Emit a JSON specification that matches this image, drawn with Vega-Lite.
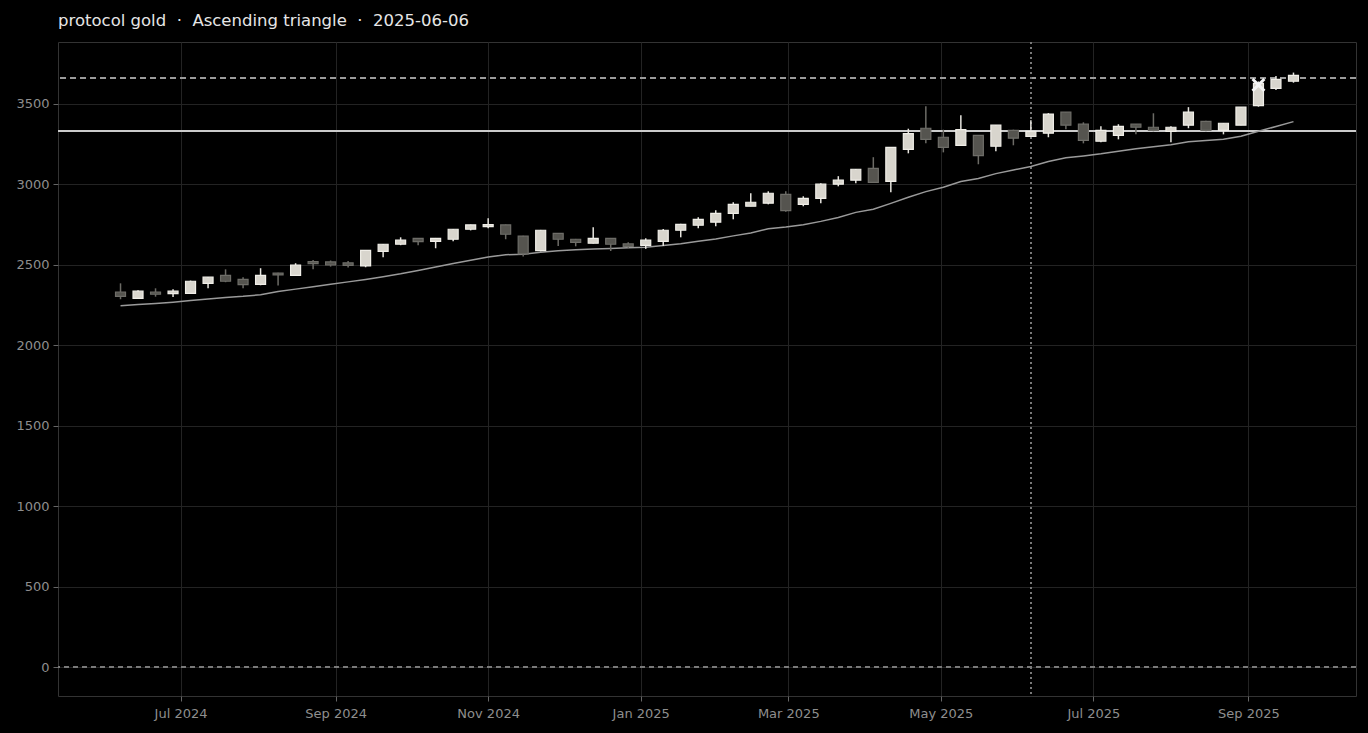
{
  "$schema": "https://vega.github.io/schema/vega-lite/v6.json",
  "autosize": "none",
  "width": 1298,
  "height": 654,
  "padding": {"left": 58, "top": 42, "right": 12, "bottom": 37},
  "background": "#000000",
  "title": {"text": "protocol gold \u00a0·\u00a0 Ascending triangle \u00a0·\u00a0 2025-06-06", "anchor": "start", "frame": "group", "font": "DejaVu Sans", "fontSize": 16.5, "fontWeight": "normal", "color": "#e6e6e6", "offset": 12},
  "config": {
    "view": {"stroke": "#333333", "strokeWidth": 1},
    "axis": {"domain": false, "grid": true, "gridColor": "#232323", "gridWidth": 1, "tickColor": "#666666", "tickSize": 5, "labelColor": "#8e8e8e", "labelFont": "DejaVu Sans", "labelFontSize": 13, "labelPadding": 4, "title": null}
  },
  "datasets": {
    "marker": [{"date": "2025-09-05", "level": 3618}]
  },
  "data": {"values": [
    {"date": "2024-06-07", "open": 2331, "high": 2385, "low": 2286, "close": 2304, "ma": 2245},
    {"date": "2024-06-14", "open": 2292, "high": 2342, "low": 2288, "close": 2336, "ma": 2253},
    {"date": "2024-06-21", "open": 2331, "high": 2354, "low": 2302, "close": 2317, "ma": 2260},
    {"date": "2024-06-28", "open": 2321, "high": 2348, "low": 2300, "close": 2336, "ma": 2268},
    {"date": "2024-07-05", "open": 2323, "high": 2402, "low": 2320, "close": 2398, "ma": 2278},
    {"date": "2024-07-12", "open": 2385, "high": 2425, "low": 2354, "close": 2423, "ma": 2288},
    {"date": "2024-07-19", "open": 2435, "high": 2472, "low": 2392, "close": 2398, "ma": 2297},
    {"date": "2024-07-26", "open": 2410, "high": 2423, "low": 2354, "close": 2377, "ma": 2304},
    {"date": "2024-08-02", "open": 2379, "high": 2479, "low": 2373, "close": 2435, "ma": 2314},
    {"date": "2024-08-09", "open": 2448, "high": 2450, "low": 2371, "close": 2437, "ma": 2334},
    {"date": "2024-08-16", "open": 2435, "high": 2510, "low": 2433, "close": 2499, "ma": 2349},
    {"date": "2024-08-23", "open": 2520, "high": 2530, "low": 2472, "close": 2507, "ma": 2364},
    {"date": "2024-08-30", "open": 2518, "high": 2527, "low": 2489, "close": 2499, "ma": 2379},
    {"date": "2024-09-06", "open": 2512, "high": 2524, "low": 2483, "close": 2497, "ma": 2394},
    {"date": "2024-09-13", "open": 2493, "high": 2592, "low": 2485, "close": 2590, "ma": 2409},
    {"date": "2024-09-20", "open": 2584, "high": 2630, "low": 2547, "close": 2628, "ma": 2426},
    {"date": "2024-09-27", "open": 2628, "high": 2671, "low": 2622, "close": 2653, "ma": 2444},
    {"date": "2024-10-04", "open": 2665, "high": 2667, "low": 2622, "close": 2644, "ma": 2465},
    {"date": "2024-10-11", "open": 2646, "high": 2667, "low": 2603, "close": 2665, "ma": 2487},
    {"date": "2024-10-18", "open": 2659, "high": 2723, "low": 2646, "close": 2721, "ma": 2508},
    {"date": "2024-10-25", "open": 2721, "high": 2750, "low": 2714, "close": 2748, "ma": 2528},
    {"date": "2024-11-01", "open": 2737, "high": 2789, "low": 2727, "close": 2750, "ma": 2548},
    {"date": "2024-11-08", "open": 2748, "high": 2750, "low": 2659, "close": 2690, "ma": 2563},
    {"date": "2024-11-15", "open": 2678, "high": 2680, "low": 2551, "close": 2568, "ma": 2566},
    {"date": "2024-11-22", "open": 2588, "high": 2717, "low": 2584, "close": 2715, "ma": 2578},
    {"date": "2024-11-29", "open": 2696, "high": 2698, "low": 2617, "close": 2659, "ma": 2588},
    {"date": "2024-12-06", "open": 2659, "high": 2661, "low": 2615, "close": 2640, "ma": 2594},
    {"date": "2024-12-13", "open": 2634, "high": 2733, "low": 2632, "close": 2665, "ma": 2598},
    {"date": "2024-12-20", "open": 2665, "high": 2667, "low": 2586, "close": 2628, "ma": 2602},
    {"date": "2024-12-27", "open": 2630, "high": 2640, "low": 2605, "close": 2615, "ma": 2606},
    {"date": "2025-01-03", "open": 2621, "high": 2665, "low": 2599, "close": 2653, "ma": 2609},
    {"date": "2025-01-10", "open": 2646, "high": 2723, "low": 2617, "close": 2715, "ma": 2620},
    {"date": "2025-01-17", "open": 2715, "high": 2755, "low": 2671, "close": 2752, "ma": 2631},
    {"date": "2025-01-24", "open": 2746, "high": 2796, "low": 2727, "close": 2783, "ma": 2646},
    {"date": "2025-01-31", "open": 2765, "high": 2839, "low": 2740, "close": 2820, "ma": 2661},
    {"date": "2025-02-07", "open": 2820, "high": 2889, "low": 2783, "close": 2876, "ma": 2680},
    {"date": "2025-02-14", "open": 2864, "high": 2945, "low": 2864, "close": 2889, "ma": 2698},
    {"date": "2025-02-21", "open": 2883, "high": 2957, "low": 2876, "close": 2945, "ma": 2724},
    {"date": "2025-02-28", "open": 2938, "high": 2957, "low": 2830, "close": 2837, "ma": 2735},
    {"date": "2025-03-07", "open": 2876, "high": 2926, "low": 2864, "close": 2913, "ma": 2749},
    {"date": "2025-03-14", "open": 2913, "high": 3007, "low": 2883, "close": 3001, "ma": 2770},
    {"date": "2025-03-21", "open": 3001, "high": 3051, "low": 2988, "close": 3026, "ma": 2794},
    {"date": "2025-03-28", "open": 3026, "high": 3096, "low": 3007, "close": 3094, "ma": 2826},
    {"date": "2025-04-04", "open": 3100, "high": 3169, "low": 3013, "close": 3013, "ma": 2845},
    {"date": "2025-04-11", "open": 3019, "high": 3232, "low": 2951, "close": 3230, "ma": 2882},
    {"date": "2025-04-18", "open": 3218, "high": 3346, "low": 3193, "close": 3315, "ma": 2920},
    {"date": "2025-04-25", "open": 3349, "high": 3486, "low": 3255, "close": 3280, "ma": 2955},
    {"date": "2025-05-02", "open": 3293, "high": 3340, "low": 3199, "close": 3230, "ma": 2982},
    {"date": "2025-05-09", "open": 3243, "high": 3430, "low": 3243, "close": 3340, "ma": 3018},
    {"date": "2025-05-16", "open": 3305, "high": 3305, "low": 3125, "close": 3179, "ma": 3036},
    {"date": "2025-05-23", "open": 3237, "high": 3368, "low": 3206, "close": 3368, "ma": 3067},
    {"date": "2025-05-30", "open": 3336, "high": 3340, "low": 3243, "close": 3287, "ma": 3090},
    {"date": "2025-06-06", "open": 3299, "high": 3399, "low": 3299, "close": 3330, "ma": 3111},
    {"date": "2025-06-13", "open": 3318, "high": 3443, "low": 3293, "close": 3437, "ma": 3142},
    {"date": "2025-06-20", "open": 3449, "high": 3449, "low": 3343, "close": 3368, "ma": 3165},
    {"date": "2025-06-27", "open": 3374, "high": 3386, "low": 3255, "close": 3274, "ma": 3177},
    {"date": "2025-07-04", "open": 3268, "high": 3361, "low": 3262, "close": 3336, "ma": 3190},
    {"date": "2025-07-11", "open": 3305, "high": 3374, "low": 3280, "close": 3361, "ma": 3206},
    {"date": "2025-07-18", "open": 3374, "high": 3374, "low": 3311, "close": 3355, "ma": 3221},
    {"date": "2025-07-25", "open": 3355, "high": 3442, "low": 3330, "close": 3336, "ma": 3234},
    {"date": "2025-08-01", "open": 3330, "high": 3361, "low": 3262, "close": 3355, "ma": 3247},
    {"date": "2025-08-08", "open": 3368, "high": 3480, "low": 3349, "close": 3449, "ma": 3265},
    {"date": "2025-08-15", "open": 3392, "high": 3395, "low": 3330, "close": 3336, "ma": 3273},
    {"date": "2025-08-22", "open": 3336, "high": 3380, "low": 3311, "close": 3380, "ma": 3281},
    {"date": "2025-08-29", "open": 3368, "high": 3480, "low": 3368, "close": 3480, "ma": 3299},
    {"date": "2025-09-05", "open": 3490, "high": 3640, "low": 3483, "close": 3628, "ma": 3330},
    {"date": "2025-09-12", "open": 3597, "high": 3674, "low": 3587, "close": 3653, "ma": 3360},
    {"date": "2025-09-19", "open": 3641, "high": 3695, "low": 3632, "close": 3678, "ma": 3390}
  ]},
  "encoding": {
    "x": {"field": "date", "type": "temporal",
      "scale": {"domain": [{"year": 2024, "month": "may", "date": 13}, {"year": 2025, "month": "oct", "date": 14}], "padding": 0},
      "axis": {"format": "%b %Y", "tickCount": {"interval": "month", "step": 2}, "labelPadding": 6}},
    "y": {"type": "quantitative", "scale": {"domain": [-180, 3885], "nice": false, "zero": false, "padding": 0},
      "axis": {"values": [0, 500, 1000, 1500, 2000, 2500, 3000, 3500], "format": "d"}}
  },
  "layer": [
    {"mark": {"type": "rule", "color": "#7a7a7a", "strokeWidth": 1.5, "strokeDash": [5, 4]},
     "encoding": {"x": null, "y": {"datum": 0, "type": "quantitative"}}},
    {"mark": {"type": "rule", "color": "#9c9c9c", "strokeWidth": 1.5, "strokeDash": [6, 4]},
     "encoding": {"x": null, "y": {"datum": 3662, "type": "quantitative"}}},
    {"mark": {"type": "rule", "color": "#cbcbcb", "strokeWidth": 2},
     "encoding": {"x": null, "y": {"datum": 3332, "type": "quantitative"}}},
    {"mark": {"type": "rule", "color": "#7a7a7a", "strokeWidth": 1, "strokeDash": [2, 3]},
     "encoding": {"y": null, "x": {"datum": {"year": 2025, "month": "jun", "date": 6}, "type": "temporal"}}},
    {"mark": {"type": "line", "color": "#9a9a9a", "strokeWidth": 1.5},
     "encoding": {"y": {"field": "ma", "type": "quantitative"}}},
    {"mark": {"type": "rule", "strokeWidth": 1.5},
     "encoding": {"y": {"field": "low", "type": "quantitative"}, "y2": {"field": "high"},
       "color": {"condition": {"test": "datum.close >= datum.open", "value": "#e6e4de"}, "value": "#6c6b66"}}},
    {"mark": {"type": "bar", "width": 10, "strokeWidth": 1.2},
     "encoding": {"y": {"field": "open", "type": "quantitative"}, "y2": {"field": "close"},
       "fill": {"condition": {"test": "datum.close >= datum.open", "value": "#d8d5cd"}, "value": "#55544f"},
       "stroke": {"condition": {"test": "datum.close >= datum.open", "value": "#f0eee8"}, "value": "#6e6d68"}}},
    {"data": {"name": "marker"},
     "mark": {"type": "point", "shape": "M-1,-1L1,1M1,-1L-1,1", "filled": false, "size": 140, "strokeWidth": 3, "color": "#f5f5f5", "opacity": 1},
     "encoding": {"y": {"field": "level", "type": "quantitative"}}}
  ]
}
